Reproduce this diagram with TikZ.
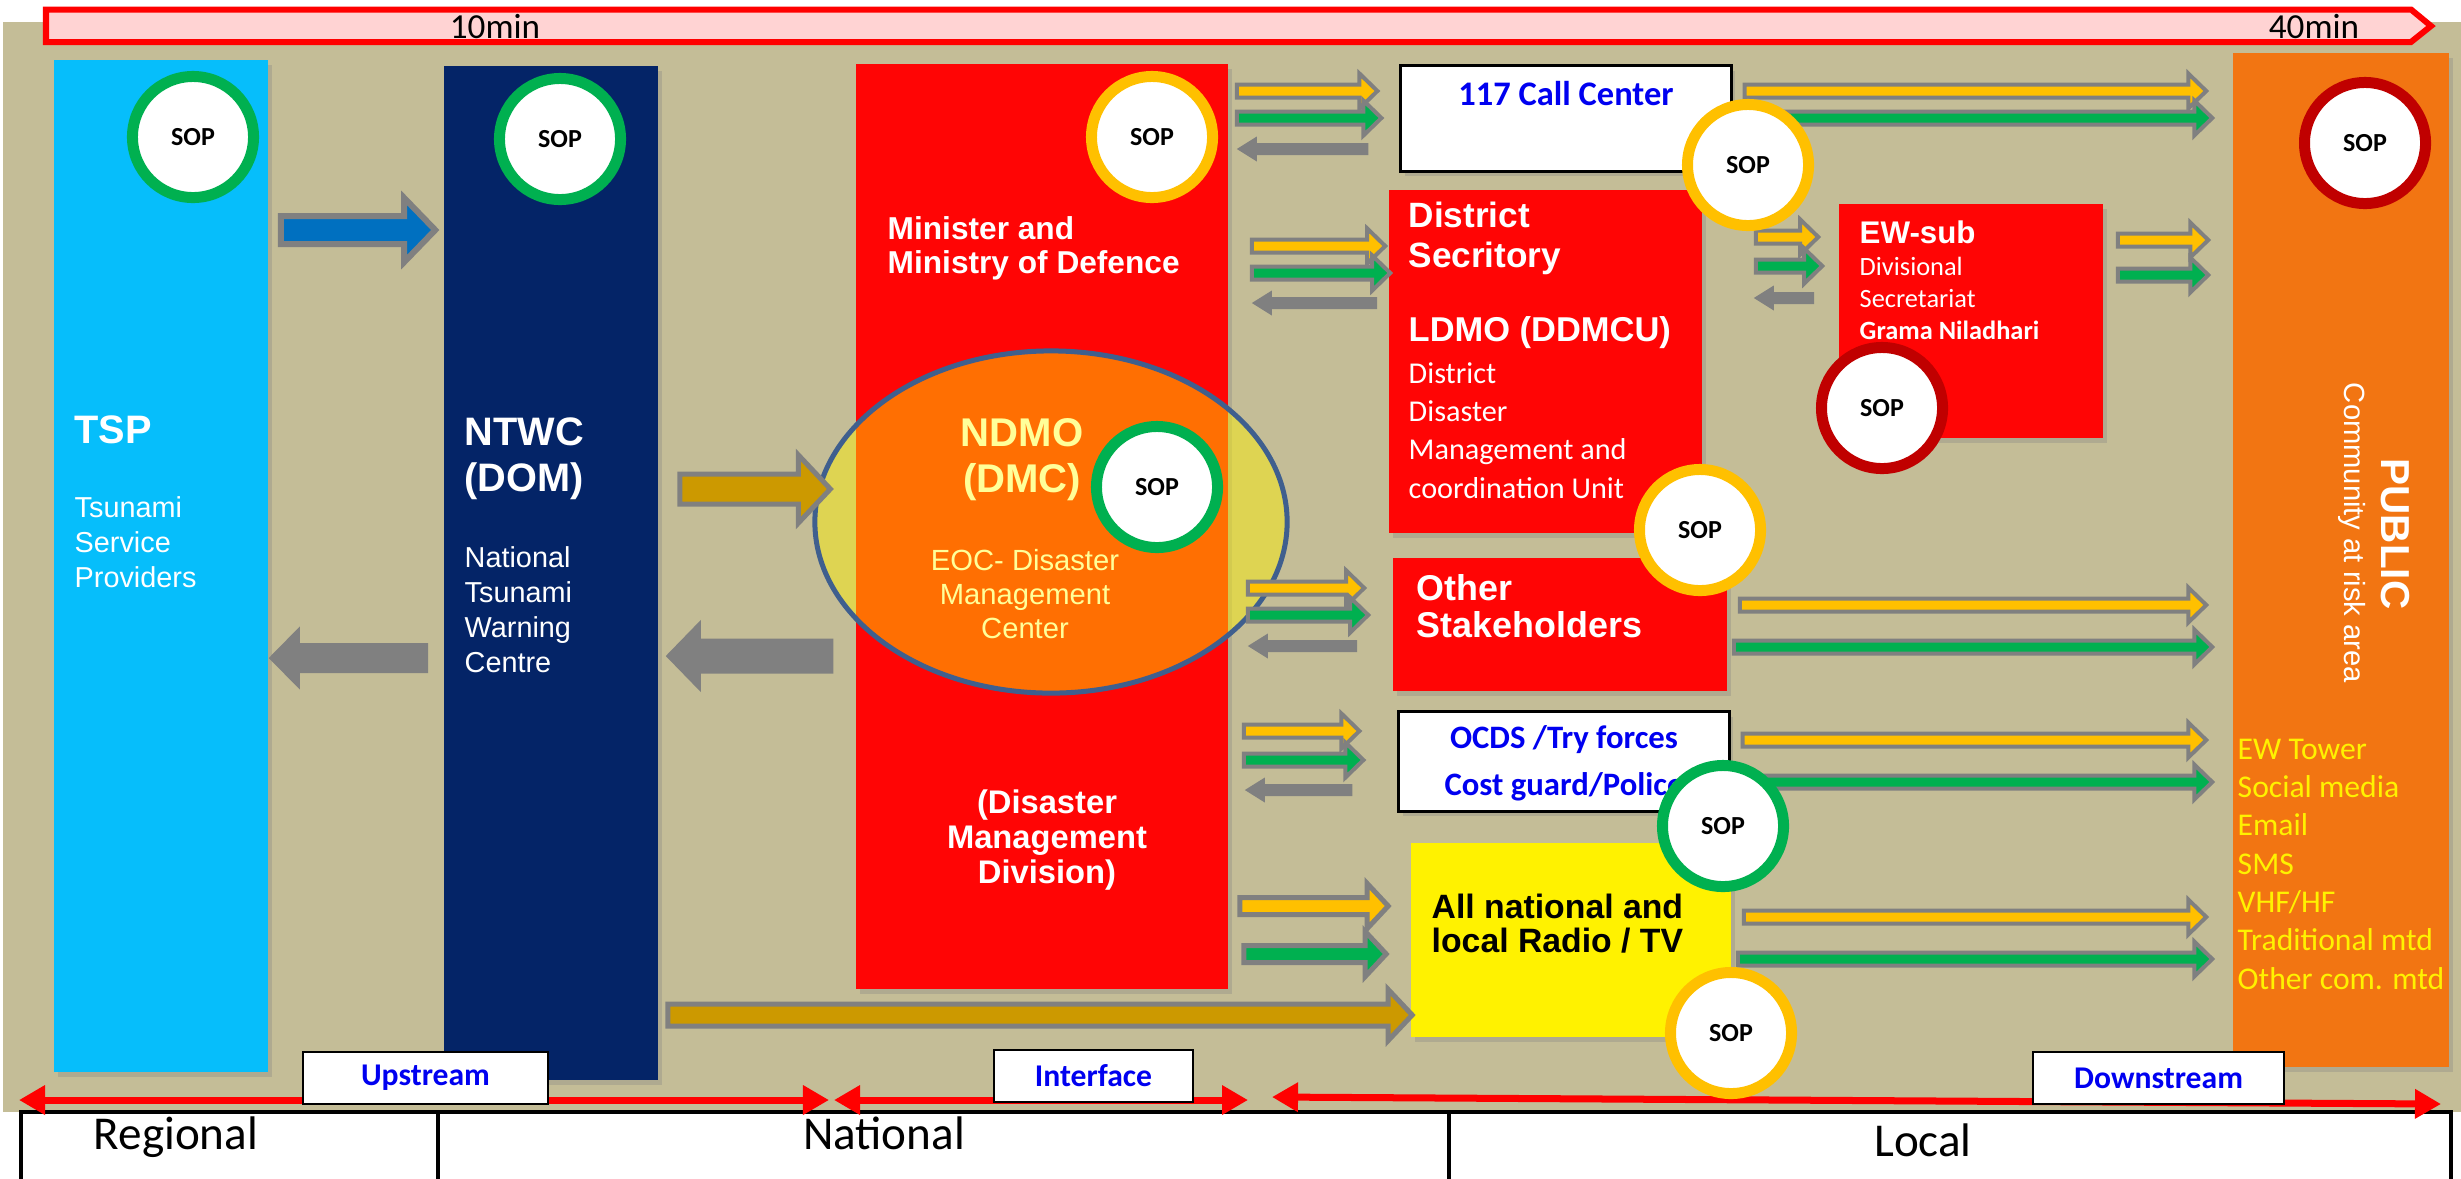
\documentclass[tikz,border=0pt]{standalone}
\usepackage{fontspec}
\setmainfont{Liberation Sans}
\newfontfamily\calib{Carlito}
\usetikzlibrary{arrows.meta, calc, shapes.geometric, shadows}
\definecolor{tanbg}{HTML}{C4BD97}
\definecolor{tspblue}{HTML}{06BEFB}
\definecolor{ntwcnavy}{HTML}{042467}
\definecolor{boxred}{HTML}{FF0505}
\definecolor{puborange}{HTML}{F27512}
\definecolor{arrgold}{HTML}{CC9900}
\definecolor{arryel}{HTML}{FFC000}
\definecolor{arrgrn}{HTML}{00B050}
\definecolor{arrgray}{HTML}{808080}
\definecolor{arrblue}{HTML}{0070C0}
\definecolor{sopred}{HTML}{C00000}
\definecolor{ellblue}{HTML}{3F5F8E}
\definecolor{paleyel}{HTML}{FFFF99}
\definecolor{barpink}{HTML}{FFD3D3}
\definecolor{txtblue}{HTML}{0000F0}

\newcommand{\fsz}[2]{\fontsize{#1}{#2}\selectfont}
% horizontal block arrow: style, from, to, half body, half head, head length
\newcommand{\blockarrow}[6]{%
  \path[#1] let \p1=#2, \p2=#3, \n1={(\x2-\x1)/abs(\x2-\x1)} in
    (\x1,{\y1+#4}) -- ({\x2-\n1*#6},{\y1+#4}) -- ({\x2-\n1*#6},{\y1+#5})
    -- (\x2,\y1) -- ({\x2-\n1*#6},{\y1-#5}) -- ({\x2-\n1*#6},{\y1-#4})
    -- (\x1,{\y1-#4}) -- cycle;}
\newcommand{\thinarrow}[3]{\blockarrow{draw=arrgray, line width=0.4mm, fill=#3}{#1}{#2}{0.65mm}{1.75mm}{1.8mm}}
\newcommand{\backarrow}[2]{\blockarrow{fill=arrgray}{#1}{#2}{0.6mm}{1.25mm}{2mm}}

\begin{document}
\begin{tikzpicture}[x=0.01cm, y=-0.01cm, line join=miter]
    \tikzset{col/.style={rectangle, inner sep=0, draw=none,
                         drop shadow={shadow xshift=0.4mm, shadow yshift=-0.5mm, opacity=0.3}}}
    \tikzset{sop/.style={circle, fill=white, draw=#1, line width=1.1mm, minimum size=1.21cm,
                         inner sep=0, font=\calib\bfseries\fsz{7.4}{9}}}
    \tikzset{lbl/.style={inner sep=0, anchor=west, align=left, text=white}}
    \tikzset{tag/.style={draw=black, line width=0.25mm, fill=white, inner sep=0,
                         minimum height=0.52cm, font=\calib\bfseries\fsz{9}{11}, text=txtblue}}
    \tikzset{cell/.style={draw=black, line width=0.4mm, fill=white, inner sep=0,
                          anchor=north west, minimum height=0.8cm}}
    \tikzset{span/.style={red, line width=0.7mm,
                          {Triangle[length=2.6mm, width=2.8mm]}-{Triangle[length=2.6mm, width=2.8mm]}}}
    \useasboundingbox (0,0) rectangle (2461,1178);
    \fill[tanbg] (3,22) rectangle (2461,1112);

    % time bar
    \draw[red, line width=0.6mm, fill=barpink]
        (46,9.5) -- (2411,9.5) -- (2431,26) -- (2411,42) -- (46,42) -- cycle;
    \node[inner sep=0, font=\calib\fsz{10}{12}] (t10) at (495,27) {10min};
    \node[inner sep=0, font=\calib\fsz{10}{12}] (t40) at (2314,27) {40min};

    % columns and boxes
    \node[col, fill=tspblue, minimum width=2.14cm, minimum height=10.12cm] (tsp) at (161,566) {};
    \node[col, fill=ntwcnavy, minimum width=2.14cm, minimum height=10.14cm] (ntwc) at (551,573) {};
    \node[col, fill=boxred, minimum width=3.72cm, minimum height=9.25cm] (min) at (1042,526.5) {};
    \node[col, fill=puborange, minimum width=2.16cm, minimum height=10.14cm] (pub) at (2341,560) {};
    \node[col, fill=white, draw=black, line width=0.3mm, minimum width=3.3cm, minimum height=1.05cm] (call) at (1566,118.5) {};
    \node[col, fill=boxred, minimum width=3.13cm, minimum height=3.43cm] (dist) at (1545.5,361.5) {};
    \node[col, fill=boxred, minimum width=2.64cm, minimum height=2.34cm] (ew) at (1971,321) {};
    \node[col, fill=boxred, minimum width=3.34cm, minimum height=1.33cm] (oth) at (1560,624.5) {};
    \node[col, fill=white, draw=black, line width=0.3mm, minimum width=3.3cm, minimum height=0.99cm] (ocds) at (1564,761.5) {};
    \node[col, fill=yellow, minimum width=3.2cm, minimum height=1.94cm] (radio) at (1571,940) {};
    \node[ellipse, draw=ellblue, line width=0.5mm, fill=yellow, fill opacity=0.45,
          minimum width=4.72cm, minimum height=3.42cm, inner sep=0] (ndmo) at (1051,522) {};

    % texts
    \node[lbl, font=\bfseries\fsz{11.3}{13}] (tspT) at (74,430) {TSP};
    \node[lbl, font=\fsz{8.2}{10}] (tspS) at (74,542) {Tsunami\\Service\\Providers};
    \node[lbl, font=\bfseries\fsz{11.3}{13.1}] (ntwcT) at (464,459) {NTWC\\(DOM)};
    \node[lbl, font=\fsz{8.2}{10}] (ntwcS) at (464,609.5) {National\\Tsunami\\Warning\\Centre};
    \node[lbl, font=\bfseries\fsz{9}{9.5}] (minT) at (887,248.5) {Minister and\\Ministry of Defence};
    \node[lbl, anchor=center, align=center, font=\bfseries\fsz{9.3}{10}] (dmdT) at (1047,840) {(Disaster\\Management\\Division)};
    \node[lbl, anchor=center, align=center, text=paleyel, font=\bfseries\fsz{11.4}{13.1}] (ndmoT) at (1022,460) {NDMO\\(DMC)};
    \node[lbl, anchor=center, align=center, text=paleyel, font=\fsz{8.3}{9.7}] (ndmoS) at (1025,594) {EOC- Disaster\\Management\\Center};
    \node[inner sep=0, text=txtblue, font=\calib\bfseries\fsz{9.8}{11}] (callT) at (1566,94) {117 Call Center};
    \node[lbl, font=\bfseries\fsz{10}{11.4}] (distT) at (1408,238) {District\\Secritory};
    \node[lbl, font=\bfseries\fsz{9.8}{11}] (ldmoT) at (1408,333) {LDMO (DDMCU)};
    \node[lbl, font=\calib\fsz{8.6}{10.9}] (ldmoS) at (1408,430.5) {District\\Disaster\\Management and\\coordination Unit};
    \node[lbl, font=\bfseries\fsz{8.9}{10}] (ewT) at (1859,232) {EW-sub};
    \node[lbl, font=\calib\fsz{7.5}{9.1}] (ewS) at (1859,298) {Divisional\\Secretariat\\\textbf{Grama Niladhari}};
    \node[lbl, font=\bfseries\fsz{10.2}{10.5}] (othT) at (1416,606.5) {Other\\Stakeholders};
    \node[inner sep=0, align=center, text=txtblue, font=\calib\bfseries\fsz{9.3}{13.4}] (ocdsT) at (1564,763.5) {OCDS /Try forces\\Cost guard/Police};
    \node[lbl, text=black, font=\bfseries\fsz{9.6}{9.7}] (radioT) at (1431,924) {All national and\\local Radio / TV};
    \node[inner sep=0, rotate=-90, text=white, font=\bfseries\fsz{11.5}{13}] (pubT) at (2395,534) {PUBLIC};
    \node[inner sep=0, rotate=-90, text=white, font=\fsz{8.3}{10}] (pubS) at (2352,533) {Community at risk area};
    \node[lbl, text=yellow, font=\calib\fsz{9}{10.9}] (chan) at (2237,864)
        {EW Tower\\Social media\\Email\\SMS\\VHF/HF\\Traditional mtd\\Other com. mtd};

    % upstream arrows
    \blockarrow{draw=arrgray, line width=0.6mm, fill=arrblue}{($(tsp.east|-0,230)+(12,0)$)}{($(ntwc.west)+(-8,0)$)}{1.4mm}{3.2mm}{3.1mm}
    \blockarrow{fill=arrgray}{($(ntwc.west|-0,658)+(-15,0)$)}{(tsp.east)}{1.5mm}{3.15mm}{3.1mm}
    \blockarrow{draw=arrgray, line width=0.5mm, fill=arrgold}{($(ntwc.east|-0,489)+(21,0)$)}{($(ndmo.west)+(18,0)$)}{1.5mm}{3.4mm}{3.2mm}
    \blockarrow{fill=arrgray}{($(ndmo.west|-0,656)+(21,0)$)}{($(ntwc.east)+(7,0)$)}{1.75mm}{3.6mm}{3.5mm}
    \blockarrow{draw=arrgray, line width=0.5mm, fill=arrgold}{($(ntwc.east|-0,1015)+(9,0)$)}{($(radio.west)+(2,0)$)}{1.1mm}{2.55mm}{2.4mm}

    % ministry to local actors
    \thinarrow{($(min.east|-0,91)+(8,0)$)}{($(call.west)+(-22,0)$)}{arryel}
    \thinarrow{($(min.east|-0,118)+(8,0)$)}{($(call.west)+(-18,0)$)}{arrgrn}
    \backarrow{($(call.west|-0,149)+(-31,0)$)}{($(min.east)+(8,0)$)}
    \thinarrow{($(min.east|-0,246)+(23,0)$)}{($(dist.west)+(-3,0)$)}{arryel}
    \thinarrow{($(min.east|-0,273)+(23,0)$)}{($(dist.west)+(2,0)$)}{arrgrn}
    \backarrow{($(dist.west|-0,303)+(-11,0)$)}{($(min.east)+(23,0)$)}
    \thinarrow{($(min.east|-0,588)+(19,0)$)}{($(oth.west)+(-28,0)$)}{arryel}
    \thinarrow{($(min.east|-0,615)+(19,0)$)}{($(oth.west)+(-24,0)$)}{arrgrn}
    \backarrow{($(oth.west|-0,646)+(-35,0)$)}{($(min.east)+(19,0)$)}
    \thinarrow{($(min.east|-0,731)+(15,0)$)}{($(ocds.west)+(-38,0)$)}{arryel}
    \thinarrow{($(min.east|-0,760)+(15,0)$)}{($(ocds.west)+(-34,0)$)}{arrgrn}
    \backarrow{($(ocds.west|-0,790)+(-45,0)$)}{($(min.east)+(16,0)$)}
    \blockarrow{draw=arrgray, line width=0.5mm, fill=arryel}{($(min.east|-0,906)+(11,0)$)}{($(radio.west)+(-22,0)$)}{0.85mm}{2.25mm}{2.1mm}
    \blockarrow{draw=arrgray, line width=0.5mm, fill=arrgrn}{($(min.east|-0,954)+(15,0)$)}{($(radio.west)+(-24,0)$)}{0.85mm}{2.25mm}{2.1mm}

    % district to EW-sub
    \thinarrow{($(dist.east|-0,237)+(53,0)$)}{($(ew.west)+(-20,0)$)}{arryel}
    \thinarrow{($(dist.east|-0,266)+(53,0)$)}{($(ew.west)+(-16,0)$)}{arrgrn}
    \backarrow{($(ew.west|-0,298)+(-24,0)$)}{($(dist.east)+(51,0)$)}

    % to the public
    \thinarrow{($(ew.east|-0,240)+(14,0)$)}{($(pub.west)+(-24,0)$)}{arryel}
    \thinarrow{($(ew.east|-0,275)+(14,0)$)}{($(pub.west)+(-24,0)$)}{arrgrn}
    \foreach \src/\ya/\yb in {call/91/118, oth/605/647, ocds/740/782, radio/917/959} {
        \thinarrow{($(\src.east|-0,\ya)+(12,0)$)}{($(pub.west)+(-26,0)$)}{arryel}
        \thinarrow{($(\src.east|-0,\yb)+(6,0)$)}{($(pub.west)+(-20,0)$)}{arrgrn}
    }

    % bottom scale
    \node[cell, minimum width=4.17cm] (reg) at (19,1110) {};
    \node[cell, minimum width=10.11cm] (nat) at (436,1110) {};
    \node[cell, minimum width=10.01cm] (loc) at (1447,1110) {};
    \node[inner sep=0, font=\calib\fsz{13.4}{15}] (regT) at (176,1137) {Regional};
    \node[inner sep=0, font=\calib\fsz{13.4}{15}] (natT) at (884,1133) {National};
    \node[inner sep=0, font=\calib\fsz{13.4}{15}] (locT) at (1923,1140) {Local};
    \coordinate (s1) at (19,1100);
    \coordinate (s2) at (829,1100);
    \coordinate (s3) at (834,1100);
    \coordinate (s4) at (1248,1100);
    \coordinate (s5) at (1272,1097);
    \coordinate (s6) at (2441,1104);
    \draw[span] (s1) -- (s2);
    \draw[span] (s3) -- (s4);
    \draw[span] (s5) -- (s6);
    \node[tag, minimum width=2.45cm] (upT) at (425.5,1078) {Upstream};
    \node[tag, minimum width=1.99cm] (ifT) at (1093.5,1076) {Interface};
    \node[tag, minimum width=2.51cm] (dnT) at (2158.5,1078) {Downstream};

    % SOP marks
    \node[sop=arrgrn] (sopTsp) at (193,137) {SOP};
    \node[sop=arrgrn] (sopNtwc) at (560,139) {SOP};
    \node[sop=arryel] (sopMin) at (1152,137) {SOP};
    \node[sop=arrgrn] (sopNdmo) at (1157,487) {SOP};
    \node[sop=arryel] (sopCall) at (1748,165) {SOP};
    \node[sop=arryel] (sopDist) at (1700,530) {SOP};
    \node[sop=sopred] (sopEw) at (1882,408) {SOP};
    \node[sop=arrgrn] (sopOcds) at (1723,826) {SOP};
    \node[sop=arryel] (sopRadio) at (1731,1033) {SOP};
    \node[sop=sopred] (sopPub) at (2365,143) {SOP};
\end{tikzpicture}
\end{document}
